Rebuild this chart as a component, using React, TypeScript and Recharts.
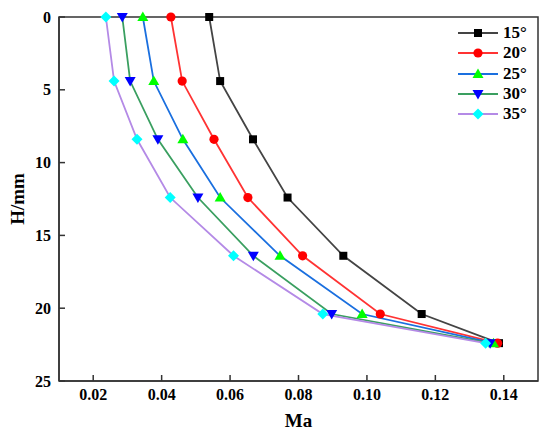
import React from "react";
import { LineChart, Line, XAxis, YAxis, Legend, ReferenceArea } from "recharts";

const depths = [0, 4.4, 8.4, 12.4, 16.4, 20.4, 22.4];
const ma15 = [0.0539, 0.0571, 0.0667, 0.0768, 0.0931, 0.116, 0.1386];
const ma20 = [0.0427, 0.046, 0.0553, 0.0652, 0.0812, 0.1039, 0.1382];
const ma25 = [0.0345, 0.0377, 0.0462, 0.0571, 0.0746, 0.0986, 0.137];
const ma30 = [0.0285, 0.0308, 0.0389, 0.0506, 0.0668, 0.0897, 0.136];
const ma35 = [0.0237, 0.0261, 0.0328, 0.0425, 0.061, 0.0871, 0.1347];
const xTicks = [0.02, 0.04, 0.06, 0.08, 0.1, 0.12, 0.14];
const yTicks = [0, 5, 10, 15, 20, 25];

const font = "Liberation Serif";
const axisColor = "#333";

type Shape = "square" | "circle" | "up" | "down" | "diamond";

const series = [
  { name: "15°", values: ma15, line: "#444444", mark: "#000000", shape: "square" as Shape },
  { name: "20°", values: ma20, line: "#ff3333", mark: "#ff0000", shape: "circle" as Shape },
  { name: "25°", values: ma25, line: "#1a6fdf", mark: "#00ff00", shape: "up" as Shape },
  { name: "30°", values: ma30, line: "#3a9f60", mark: "#0000ff", shape: "down" as Shape },
  { name: "35°", values: ma35, line: "#b48ae6", mark: "#00ffff", shape: "diamond" as Shape },
];

function Marker({ shape, cx, cy, color }: { shape: Shape; cx: number; cy: number; color: string }) {
  if (shape === "square") return <rect x={cx - 4} y={cy - 4} width={8} height={8} fill={color} />;
  if (shape === "circle") return <circle cx={cx} cy={cy} r={4.6} fill={color} />;
  if (shape === "up")
    return <polygon points={`${cx},${cy - 5.5} ${cx - 5.5},${cy + 4} ${cx + 5.5},${cy + 4}`} fill={color} />;
  if (shape === "down")
    return <polygon points={`${cx},${cy + 5.5} ${cx - 5.5},${cy - 4} ${cx + 5.5},${cy - 4}`} fill={color} />;
  return <polygon points={`${cx},${cy - 5.5} ${cx + 5.5},${cy} ${cx},${cy + 5.5} ${cx - 5.5},${cy}`} fill={color} />;
}

function LegendBox() {
  return (
    <div style={{ fontFamily: font, fontWeight: "bold", fontSize: 17 }}>
      {series.map((s) => (
        <div key={s.name} style={{ display: "flex", alignItems: "center", height: 20.25 }}>
          <svg width={42} height={20}>
            <line x1={0} y1={10} x2={40} y2={10} stroke={s.line} strokeWidth={1.8} />
            <Marker shape={s.shape} cx={20} cy={10} color={s.mark} />
          </svg>
          <span style={{ marginLeft: 3, color: "#000" }}>{s.name}</span>
        </div>
      ))}
    </div>
  );
}

export default function App() {
  return (
    <LineChart width={542} height={431} margin={{ top: 9, right: 12, left: 0, bottom: 8 }}>
      <XAxis
        dataKey="ma"
        type="number"
        domain={[0.01, 0.15]}
        ticks={xTicks}
        tickFormatter={(v: number) => v.toFixed(2)}
        height={50}
        tickSize={-6}
        tickMargin={14}
        stroke={axisColor}
        strokeWidth={1.5}
        tick={{ fill: "#000", fontFamily: font, fontWeight: "bold", fontSize: 16 }}
        label={{
          value: "Ma",
          position: "insideBottom",
          offset: 4,
          style: { fill: "#000", fontFamily: font, fontWeight: "bold", fontSize: 19 },
        }}
      />
      <YAxis
        type="number"
        reversed
        domain={[0, 25]}
        ticks={yTicks}
        width={51}
        tickSize={-6}
        tickMargin={14}
        stroke={axisColor}
        strokeWidth={1.5}
        tick={{ fill: "#000", fontFamily: font, fontWeight: "bold", fontSize: 16 }}
        label={{
          value: "H/mm",
          angle: -90,
          position: "insideLeft",
          offset: 9,
          style: { fill: "#000", fontFamily: font, fontWeight: "bold", fontSize: 19, textAnchor: "middle" },
        }}
      />
      <ReferenceArea
        x1={0.01}
        x2={0.15}
        y1={0}
        y2={25}
        fill="none"
        stroke={axisColor}
        strokeWidth={1.5}
        ifOverflow="visible"
      />
      {series.map((s) => (
        <Line
          key={s.name}
          name={s.name}
          data={s.values.map((v, i) => ({ ma: v, h: depths[i] }))}
          dataKey="h"
          type="linear"
          stroke={s.line}
          strokeWidth={1.8}
          isAnimationActive={false}
          dot={(p: any) => <Marker key={`${s.name}-${p.index}`} shape={s.shape} cx={p.cx} cy={p.cy} color={s.mark} />}
          activeDot={false}
        />
      ))}
      <Legend
        layout="vertical"
        align="center"
        verticalAlign="middle"
        content={() => <LegendBox />}
        wrapperStyle={{ top: 15, left: 450, width: "auto" }}
      />
    </LineChart>
  );
}
